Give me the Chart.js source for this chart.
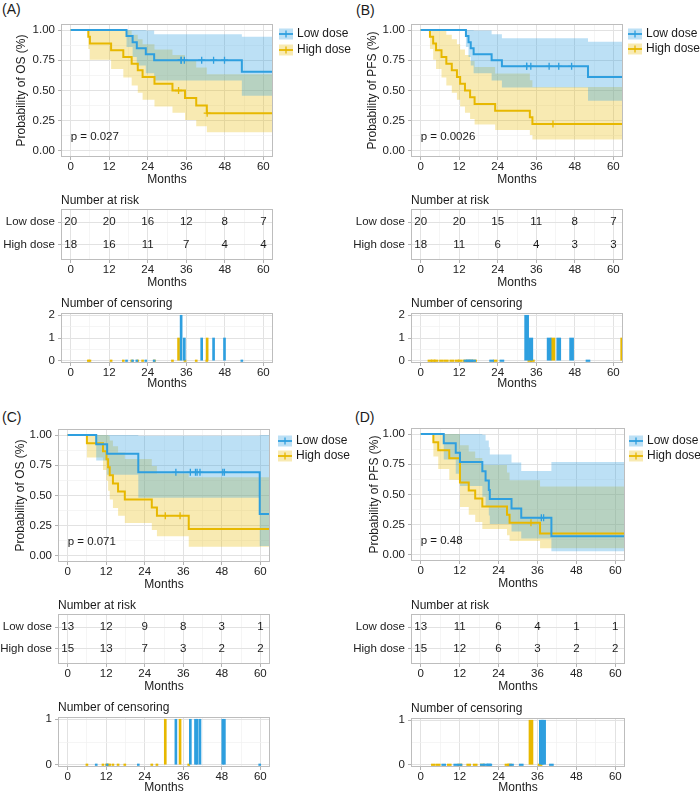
<!DOCTYPE html>
<html><head><meta charset="utf-8">
<script src="https://cdn.jsdelivr.net/npm/chart.js@4.4.1/dist/chart.umd.min.js"></script>
<style>
html,body{margin:0;padding:0;background:#fff;}
#wrap{position:relative;width:700px;height:795px;overflow:hidden;font-family:"Liberation Sans",Arial,sans-serif;background:#fff;}
canvas{position:absolute;}
.lab{position:absolute;font-size:14px;line-height:14px;color:#1a1a1a;}
</style></head><body><div id="wrap">
<div class="lab" style="left:2px;top:2px">(A)</div>
<div class="lab" style="left:356px;top:3px">(B)</div>
<div class="lab" style="left:2px;top:410px">(C)</div>
<div class="lab" style="left:355px;top:410px">(D)</div>
</div>
<script>
// ---------------- DATA ----------------
const groupNames = ['Low dose', 'High dose'];
const riskTimes = [0, 12, 24, 36, 48, 60];
const xTickVals = [0, 6, 12, 18, 24, 30, 36, 42, 48, 54, 60];
const kmYTickVals = [0, 0.125, 0.25, 0.375, 0.5, 0.625, 0.75, 0.875, 1];

// Panel A (OS)
const A_lowTime   = [0, 17.4, 19.3, 20.6, 23.4, 26.0, 53.3, 63];
const A_lowSurv   = [1, 0.95, 0.90, 0.85, 0.80, 0.75, 0.656, 0.656];
const A_lowUpper  = [1, 1, 1, 1, 0.996, 0.966, 0.945, 0.945];
const A_lowLower  = [1, 0.859, 0.778, 0.707, 0.643, 0.582, 0.456, 0.456];
const A_lowCensor = [34.4, 34.4, 35.4, 40.8, 44.5, 47.9];
const A_highTime  = [0, 5.5, 6.0, 12.6, 16.4, 19.0, 20.9, 22.4, 26.1, 31.7, 35.6, 39.1, 42.4, 63];
const A_highSurv  = [1, 0.944, 0.889, 0.833, 0.778, 0.722, 0.667, 0.611, 0.556, 0.5, 0.438, 0.375, 0.3125, 0.3125];
const A_highUpper = [1, 1, 1, 1, 0.996, 0.962, 0.924, 0.883, 0.840, 0.794, 0.744, 0.691, 0.635, 0.635];
const A_highLower = [1, 0.844, 0.755, 0.678, 0.608, 0.542, 0.481, 0.423, 0.368, 0.315, 0.257, 0.204, 0.154, 0.154];
const A_highCensor = [33.6, 42.5];
const A_riskLow  = [20, 20, 16, 12, 8, 7];
const A_riskHigh = [18, 16, 11, 7, 4, 4];

// Panel B (PFS)
const B_lowTime   = [0, 14.1, 14.9, 15.6, 16.5, 22.1, 25.3, 52.1, 63];
const B_lowSurv   = [1, 0.95, 0.90, 0.85, 0.80, 0.75, 0.70, 0.6125, 0.6125];
const B_lowUpper  = [1, 1, 1, 1, 0.996, 0.966, 0.933, 0.903, 0.903];
const B_lowLower  = [1, 0.859, 0.778, 0.707, 0.643, 0.582, 0.525, 0.415, 0.415];
const B_lowCensor = [33.0, 33.0, 34.3, 40.0, 43.0, 47.0];
const B_highTime  = [0, 2.9, 3.9, 4.8, 6.5, 8.0, 9.7, 11.3, 12.3, 13.8, 15.4, 16.8, 23.2, 34.0, 34.8, 63];
const B_highSurv  = [1, 0.944, 0.889, 0.833, 0.778, 0.722, 0.667, 0.611, 0.556, 0.5, 0.444, 0.389, 0.333, 0.278, 0.222, 0.222];
const B_highUpper = [1, 1, 1, 1, 0.996, 0.962, 0.924, 0.883, 0.840, 0.794, 0.745, 0.694, 0.641, 0.585, 0.528, 0.528];
const B_highLower = [1, 0.844, 0.755, 0.678, 0.608, 0.542, 0.481, 0.423, 0.368, 0.315, 0.265, 0.218, 0.173, 0.132, 0.094, 0.094];
const B_highCensor = [41.2, 62.9];
const B_riskLow  = [20, 20, 15, 11, 8, 7];
const B_riskHigh = [18, 11, 6, 4, 3, 3];

// Panel C (OS)
const C_lowTime   = [0, 8.9, 12.3, 22.0, 59.8, 63];
const C_lowSurv   = [1, 0.923, 0.846, 0.692, 0.346, 0.346];
const C_lowUpper  = [1, 1, 1, 0.995, 1, 1];
const C_lowLower  = [1, 0.789, 0.671, 0.482, 0.083, 0.083];
const C_lowCensor = [33.7, 38.2, 39.8, 40.3, 41.2, 48.3, 48.8];
const C_highTime  = [0, 6.0, 11.0, 12.1, 12.6, 13.1, 14.1, 15.7, 17.8, 26.2, 27.8, 37.7, 63];
const C_highSurv  = [1, 0.933, 0.867, 0.8, 0.733, 0.667, 0.6, 0.533, 0.467, 0.4, 0.333, 0.222, 0.222];
const C_highUpper = [1, 1, 1, 1, 0.995, 0.954, 0.907, 0.856, 0.802, 0.744, 0.682, 0.650, 0.650];
const C_highLower = [1, 0.815, 0.711, 0.621, 0.540, 0.466, 0.397, 0.332, 0.272, 0.215, 0.163, 0.076, 0.076];
const C_highCensor = [30.4, 35.0];
const C_riskLow  = [13, 12, 9, 8, 3, 1];
const C_riskHigh = [15, 13, 7, 3, 2, 2];

// Panel D (PFS)
const D_lowTime   = [0, 7.1, 10.8, 12.1, 19.0, 20.0, 21.0, 21.3, 28.0, 31.0, 40.3, 63];
const D_lowSurv   = [1, 0.923, 0.846, 0.769, 0.692, 0.615, 0.538, 0.462, 0.385, 0.308, 0.154, 0.154];
const D_lowUpper  = [1, 1, 1, 1, 0.995, 0.946, 0.891, 0.830, 0.765, 0.695, 0.768, 0.768];
const D_lowLower  = [1, 0.789, 0.671, 0.571, 0.482, 0.400, 0.326, 0.257, 0.193, 0.136, 0.031, 0.031];
const D_lowCensor = [37.2, 37.9];
const D_highTime  = [0, 3.9, 5.4, 8.8, 12.1, 14.8, 16.8, 19.0, 26.6, 27.4, 36.8, 63];
const D_highSurv  = [1, 0.933, 0.867, 0.8, 0.6, 0.533, 0.467, 0.4, 0.333, 0.267, 0.178, 0.178];
const D_highUpper = [1, 1, 1, 1, 0.907, 0.856, 0.802, 0.744, 0.682, 0.617, 0.567, 0.567];
const D_highLower = [1, 0.815, 0.711, 0.621, 0.397, 0.332, 0.272, 0.215, 0.163, 0.115, 0.056, 0.056];
const D_highCensor = [34.0];
const D_riskLow  = [13, 11, 6, 4, 1, 1];
const D_riskHigh = [15, 12, 6, 3, 2, 2];

// ---------------- STYLE ----------------
const FONT = '"Liberation Sans", Arial, sans-serif';
const BLUE = '#2E9FDF', ORANGE = '#E7B800';
const BLUE_FILL = 'rgba(46,159,223,0.32)', ORANGE_FILL = 'rgba(231,184,0,0.3)';
const TXT = '#1a1a1a', TICK_TXT = '#222222';
const GRID_MAJOR = '#e2e2e2', GRID_MINOR = '#f1f1f1', BORDER = '#bdbdbd', TICK_COL = '#b3b3b3';
const X_MIN = -3, X_MAX = 63;
Chart.defaults.font.family = FONT;
Chart.defaults.color = TXT;

const panels = [
  {x0:0, w:360, ep:'OS', p:'p = 0.027', yTitleX:22, km:{L:61,T:24,R:273,B:157}, risk:{L:61,T:209,R:273,B:260}, cens:{L:61,T:313,R:273,B:363},
   lowT:A_lowTime, lowS:A_lowSurv, lowU:A_lowUpper, lowL:A_lowLower, lowC:A_lowCensor,
   highT:A_highTime, highS:A_highSurv, highU:A_highUpper, highL:A_highLower, highC:A_highCensor,
   riskLow:A_riskLow, riskHigh:A_riskHigh, censMax:2, barW:2, legend:{dx:6, ys:[10,26]}},
  {x0:350, w:350, ep:'PFS', p:'p = 0.0026', yTitleX:23, km:{L:411,T:24,R:623,B:157}, risk:{L:411,T:209,R:623,B:260}, cens:{L:411,T:313,R:623,B:363},
   lowT:B_lowTime, lowS:B_lowSurv, lowU:B_lowUpper, lowL:B_lowLower, lowC:B_lowCensor,
   highT:B_highTime, highS:B_highSurv, highU:B_highUpper, highL:B_highLower, highC:B_highCensor,
   riskLow:B_riskLow, riskHigh:B_riskHigh, censMax:2, barW:4, legend:{dx:5, ys:[10,25]}},
  {x0:0, w:360, ep:'OS', p:'p = 0.071', yTitleX:20.5, km:{L:58,T:429,R:270,B:562}, risk:{L:58,T:614,R:270,B:664}, cens:{L:58,T:717,R:270,B:767},
   lowT:C_lowTime, lowS:C_lowSurv, lowU:C_lowUpper, lowL:C_lowLower, lowC:C_lowCensor,
   highT:C_highTime, highS:C_highSurv, highU:C_highUpper, highL:C_highLower, highC:C_highCensor,
   riskLow:C_riskLow, riskHigh:C_riskHigh, censMax:1, barW:2, legend:{dx:8, ys:[12,27]}},
  {x0:350, w:350, ep:'PFS', p:'p = 0.48', yTitleX:25, km:{L:411,T:428,R:625,B:561}, risk:{L:411,T:614,R:625,B:664}, cens:{L:411,T:718,R:625,B:767},
   lowT:D_lowTime, lowS:D_lowSurv, lowU:D_lowUpper, lowL:D_lowLower, lowC:D_lowCensor,
   highT:D_highTime, highS:D_highSurv, highU:D_highUpper, highL:D_highLower, highC:D_highCensor,
   riskLow:D_riskLow, riskHigh:D_riskHigh, censMax:1, barW:4, legend:{dx:4, ys:[13,28]}}
];

// ---------------- HELPERS ----------------
function makeCanvas(x0, y0, w, h) {
  const c = document.createElement('canvas');
  c.width = w; c.height = h;
  c.style.left = x0 + 'px'; c.style.top = y0 + 'px';
  c.style.width = w + 'px'; c.style.height = h + 'px';
  document.getElementById('wrap').appendChild(c);
  return c;
}
function gridOpts(major) {
  const isM = c => !!(c.tick && major(c.tick.value));
  return {
    drawTicks: true, tickLength: 3, offset: false,
    color: c => isM(c) ? GRID_MAJOR : GRID_MINOR,
    lineWidth: c => isM(c) ? 1 : 0.7,
    tickColor: c => isM(c) ? TICK_COL : 'rgba(0,0,0,0)',
    tickWidth: 1
  };
}
const major12 = v => Math.abs(v % 12) < 1e-9;
function xAxis(H) {
  return {
    type: 'linear', min: X_MIN, max: X_MAX, bounds: 'data', offset: false,
    afterBuildTicks: s => { s.ticks = xTickVals.map(v => ({value: v})); },
    afterFit: s => { s.height = H; s.paddingLeft = 0; s.paddingRight = 0; },
    ticks: {autoSkip: false, maxRotation: 0, minRotation: 0, padding: 0, color: TICK_TXT, font: {size: 11.5},
            callback: v => major12(v) ? String(v) : ''},
    grid: gridOpts(major12),
    border: {display: false},
    title: {display: true, text: 'Months', color: TXT, font: {size: 12}, padding: {top: 0, bottom: 0}}
  };
}
function yAxis(W, min, max, vals, major, labelFn, title, fsize, titleOffset) {
  return {
    type: 'linear', min, max, bounds: 'data',
    afterBuildTicks: s => { s.ticks = vals.map(v => ({value: v})); },
    afterFit: s => { s.width = W; s.paddingTop = 0; s.paddingBottom = 0; },
    ticks: {autoSkip: false, padding: 3, color: TICK_TXT, font: {size: fsize || 11.5},
            callback: v => major(v) ? labelFn(v) : ''},
    grid: gridOpts(major),
    border: {display: false},
    title: {display: !!title, text: title || '', color: TXT, font: {size: 12}, padding: {top: titleOffset || 0, bottom: 0}}
  };
}
function makeDecor(s) {
  return {
    id: 'decor',
    afterDatasetsDraw(chart) {
      const ctx = chart.ctx;
      chart.data.datasets.forEach((ds, i) => {
        if (!ds.riskCounts) return;
        const meta = chart.getDatasetMeta(i);
        ctx.save();
        ctx.font = '11.5px ' + FONT; ctx.fillStyle = TXT; ctx.textAlign = 'center'; ctx.textBaseline = 'middle';
        meta.data.forEach((el, j) => ctx.fillText(String(ds.riskCounts[j]), el.x, el.y));
        ctx.restore();
      });
    },
    afterDraw(chart) {
      const ctx = chart.ctx, a = chart.chartArea;
      ctx.save();
      ctx.strokeStyle = BORDER; ctx.lineWidth = 1;
      ctx.strokeRect(Math.round(a.left) + 0.5, Math.round(a.top) + 0.5, Math.round(a.right - a.left) - 1, Math.round(a.bottom - a.top) - 1);
      ctx.fillStyle = TXT; ctx.textBaseline = 'middle'; ctx.textAlign = 'left';
      if (s.heading) { ctx.font = '12px ' + FONT; ctx.fillText(s.heading, a.left, a.top - s.headingDy); }
      if (s.pText) {
        ctx.font = '11.5px ' + FONT;
        ctx.fillText(s.pText, chart.scales.x.getPixelForValue(s.pAt[0]), chart.scales.y.getPixelForValue(s.pAt[1]));
      }
      if (s.legend) {
        const kx = a.right + s.legend.dx;
        s.legend.items.forEach((it, k) => {
          const cy = a.top + s.legend.ys[k];
          ctx.fillStyle = it.fill; ctx.fillRect(kx, cy - 5.5, 14, 11);
          ctx.strokeStyle = it.color; ctx.lineWidth = 1.8;
          ctx.beginPath(); ctx.moveTo(kx, cy); ctx.lineTo(kx + 14, cy); ctx.stroke();
          ctx.lineWidth = 1.3;
          ctx.beginPath(); ctx.moveTo(kx + 7, cy - 3.5); ctx.lineTo(kx + 7, cy + 3.5); ctx.stroke();
          ctx.fillStyle = TXT; ctx.font = '12px ' + FONT; ctx.fillText(it.label, kx + 18, cy);
        });
      }
      ctx.restore();
    }
  };
}
function survAt(t, T, S) { let v = S[0]; for (let i = 0; i < T.length; i++) if (T[i] <= t) v = S[i]; return v; }
const pts = (T, V) => T.map((t, i) => ({x: t, y: V[i]}));
function baseOpts(padding, scales) {
  return {responsive: false, animation: false, events: [], devicePixelRatio: window.devicePixelRatio || 1,
          layout: {padding}, plugins: {legend: {display: false}, tooltip: {enabled: false}}, scales};
}

// ---------------- BUILD ----------------
panels.forEach(p => {
  // KM plot
  {
    const a = p.km, H = 30, W = a.L - p.x0, y0 = a.T - 8;
    const cv = makeCanvas(p.x0, y0, p.w, a.B + H - y0);
    const padding = {left: 0, top: a.T - y0, right: p.x0 + p.w - a.R, bottom: 0};
    const line = (T, S, col) => ({data: pts(T, S), borderColor: col, borderWidth: 2, stepped: true, pointRadius: 0, fill: false, tension: 0});
    const cens = (C, T, S, col) => ({data: C.map(t => ({x: t, y: survAt(t, T, S)})), showLine: false, pointStyle: 'cross',
                                     pointRadius: 3.5, pointBorderColor: col, pointBorderWidth: 1.3, borderColor: col, fill: false});
    const band = (T, V, fillCol) => ({data: pts(T, V), stepped: true, borderWidth: 0, borderColor: 'rgba(0,0,0,0)', pointRadius: 0,
                                      tension: 0, fill: fillCol ? '-1' : false, backgroundColor: fillCol || 'rgba(0,0,0,0)'});
    new Chart(cv, {
      type: 'line',
      data: {datasets: [
        line(p.lowT, p.lowS, BLUE), line(p.highT, p.highS, ORANGE),
        cens(p.lowC, p.lowT, p.lowS, BLUE), cens(p.highC, p.highT, p.highS, ORANGE),
        band(p.lowT, p.lowU, null), band(p.lowT, p.lowL, BLUE_FILL),
        band(p.highT, p.highU, null), band(p.highT, p.highL, ORANGE_FILL)
      ]},
      options: baseOpts(padding, {
        x: xAxis(H),
        y: yAxis(W, -0.05, 1.05, kmYTickVals, v => Math.abs(v * 4 - Math.round(v * 4)) < 1e-9, v => v.toFixed(2),
                 'Probability of ' + p.ep + ' (%)', 11.5, p.yTitleX - 7.2)
      }),
      plugins: [makeDecor({pText: p.p, pAt: [0, 0.115],
        legend: {dx: p.legend.dx, ys: p.legend.ys, items: [
          {label: groupNames[0], color: BLUE, fill: BLUE_FILL}, {label: groupNames[1], color: ORANGE, fill: ORANGE_FILL}]}})]
    });
  }
  // Risk table
  {
    const a = p.risk, H = 30, W = a.L - p.x0, y0 = a.T - 18;
    const cv = makeCanvas(p.x0, y0, p.w, a.B + H - y0);
    const padding = {left: 0, top: a.T - y0, right: p.x0 + p.w - a.R, bottom: 0};
    new Chart(cv, {
      type: 'line',
      data: {datasets: [
        {data: riskTimes.map(t => ({x: t, y: 2})), riskCounts: p.riskLow, showLine: false, pointRadius: 0},
        {data: riskTimes.map(t => ({x: t, y: 1})), riskCounts: p.riskHigh, showLine: false, pointRadius: 0}
      ]},
      options: baseOpts(padding, {
        x: xAxis(H),
        y: yAxis(W, 0.3, 2.6, [1, 2], () => true, v => v === 2 ? groupNames[0] : groupNames[1], null, 11.5)
      }),
      plugins: [makeDecor({heading: 'Number at risk', headingDy: 8})]
    });
  }
  // Censoring
  {
    const a = p.cens, H = 28, W = a.L - p.x0, y0 = a.T - 19;
    const cv = makeCanvas(p.x0, y0, p.w, a.B + H - y0);
    const padding = {left: 0, top: a.T - y0, right: p.x0 + p.w - a.R, bottom: 0};
    const counts = (C) => { const m = new Map(); C.forEach(t => m.set(t, (m.get(t) || 0) + 1)); return [...m].map(([x, y]) => ({x, y})); };
    const zeros = (T) => T.slice(1, -1).map(t => ({x: t, y: 0}));
    const bars = (T, C, col) => ({type: 'bar', data: zeros(T).concat(counts(C)), backgroundColor: col, borderWidth: 0,
                                  barThickness: p.barW, grouped: false, minBarLength: 1.5});
    const ymax = p.censMax, exp = ymax * 0.05;
    const yv = ymax === 2 ? [0, 0.5, 1, 1.5, 2] : [0, 0.5, 1];
    new Chart(cv, {
      type: 'bar',
      data: {datasets: [bars(p.lowT, p.lowC, BLUE), bars(p.highT, p.highC, ORANGE)]},
      options: baseOpts(padding, {
        x: xAxis(H),
        y: yAxis(W, -exp, ymax + exp, yv, v => Math.abs(v - Math.round(v)) < 1e-9, v => String(v), null, 11.5)
      }),
      plugins: [makeDecor({heading: 'Number of censoring', headingDy: 9.5})]
    });
  }
});
</script></body></html>
